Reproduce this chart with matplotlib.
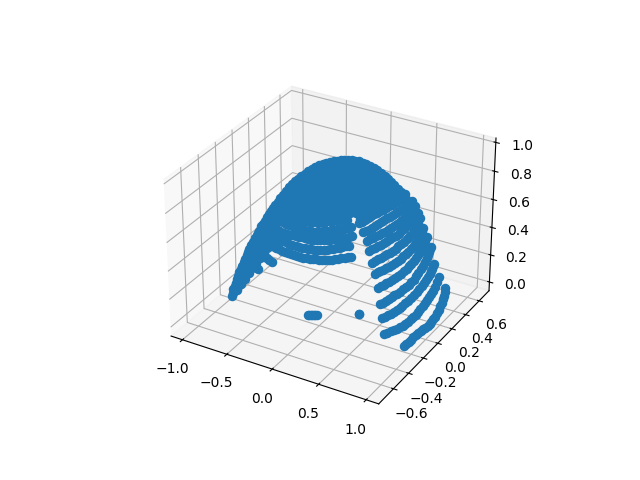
import matplotlib
matplotlib.use('Agg')
import matplotlib.pyplot as plt

# arcs on the right side, (x is fixed for each one)
arc_x = [.96, .86, .76, .66, .56, .46, .36, .5, .48, .46, .44]
arc_y = [
    [-.253, -.220, -.187, -.153, -.120, -.087, -.054, -.021, .012, .045, .078, .105, .131, .158, .184, .210, .237, .256, .276, .290, .303, .310, .316],
    [-.396, -.350, -.303, -.264, -.224, -.184, -.144, -.105, -.065, -.032, .001, .034, .067, .100, .134, .167, .200, .226, .253, .280, .306, .332, .358],
    [-.299, -.260, -.220, -.180, -.140, -.100, -.061, -.021, .019, .058, .098, .138, .177, .210, .243, .276, .310, .336, .362, .375, .389, .402, .415],
    [-.204, -.164, -.124, -.085, -.045, -.006, .034, .074, .114, .154, .193, .226, .259, .292, .325, .358, .392, .418, .444, .458, .471, .484, .497],
    [-.108, -.068, -.029, .010, .050, .090, .130, .170, .209, .248, .288, .321, .354, .388, .421, .448, .474, .500, .526, .546, .566],
    [-.026, .014, .053, .092, .132, .172, .212, .252, .291, .330, .370, .404, .437, .470, .503, .530, .556, .582, .608, .628, .648],
    [.066, .106, .146, .186, .225, .264, .304, .344, .384, .424, .463, .502, .542, .575, .608, .642, .675, .702, .728],
    [-.155, -.115, -.075, -.036, .004, .044, .083, .123, .163, .202, .242, .282, .321, .354, .388, .421, .454, .480, .507],
    [-.157, -.118, -.078, -.038, .001, .041, .081, .120, .160, .200, .239, .279, .319, .358, .398, .424, .451, .471, .491],
    [-.185, -.146, -.106, -.066, -.026, .014, .053, .092, .132, .172, .212, .252, .291, .330, .370, .404, .437, .456, .476],
    [-.214, -.174, -.135, -.096, -.056, -.016, .024, .064, .103, .143, .183, .222, .262, .302, .341, .368, .394],
]
arc_z = [
    [.014, .012, .011, .008, .006, .003, .001, -.003, -.006, -.010, -.013, -.012, -.011, -.007, -.002, .010, .022, .037, .052, .070, .088, .113, .139],
    [.156, .140, .125, .112, .100, .091, .082, .076, .071, .069, .067, .069, .071, .075, .080, .085, .090, .098, .107, .118, .130, .152, .176],
    [.195, .186, .177, .168, .159, .154, .149, .143, .138, .136, .134, .136, .138, .143, .149, .153, .158, .170, .182, .193, .204, .215, .226],
    [.227, .218, .209, .204, .199, .190, .181, .176, .171, .169, .167, .168, .170, .179, .188, .196, .204, .220, .235, .250, .265, .280, .294],
    [.275, .266, .257, .248, .239, .234, .229, .224, .218, .216, .214, .216, .218, .222, .227, .235, .244, .259, .275, .293, .312],
    [.313, .304, .295, .286, .278, .269, .260, .254, .249, .247, .246, .247, .248, .249, .251, .256, .261, .276, .292, .307, .322],
    [.326, .321, .316, .307, .298, .292, .287, .282, .277, .275, .273, .271, .270, .271, .273, .285, .297, .316, .335],
    [.546, .538, .529, .520, .511, .505, .500, .495, .490, .484, .479, .477, .476, .477, .478, .483, .488, .496, .505],
    [.615, .606, .597, .588, .580, .571, .562, .556, .551, .546, .541, .539, .537, .539, .541, .545, .550, .554, .559],
    [.681, .672, .663, .658, .653, .648, .642, .637, .632, .623, .614, .612, .610, .608, .607, .604, .602, .600, .597],
    [.755, .746, .738, .733, .728, .722, .716, .708, .699, .694, .688, .682, .677, .672, .667, .672, .677],
]

# arcs on the front, (y is fixed for each one)
front_y = [-.45, -.35, -.25, -.15]
front_x = [
    [.554, .520, .487, .453, .419, .386, .352, .318, .285, .252, .218, .184, .151, .118, .084, .050, .017, -.016, -.050, -.084, -.117, -.151, -.185, -.218, -.252, -.286, -.319],
    [.447, .414, .380, .346, .313, .280, .246, .212, .179, .146, .112, .078, .045, .012, -.022, -.056, -.089, -.123, -.157, -.190, -.224, -.258, -.291, -.319, -.347],
    [.396, .362, .329, .296, .262, .228, .195, .162, .128, .094, .060, .026, -.007, -.040, -.074, -.108, -.141, -.174, -.208, -.242, -.275, -.308, -.342, -.376, -.409],
    [.300, .266, .233, .200, .166, .132, .098, .064, .031, -.002, -.036, -.070, -.103, -.136, -.170, -.204, -.237, -.270, -.304, -.338, -.372, -.406, -.440],
]
front_z = [
    [.659, .649, .639, .629, .619, .609, .599, .592, .586, .579, .573, .570, .567, .562, .558, .557, .556, .556, .556, .557, .558, .558, .559, .563, .567, .571, .575],
    [.667, .655, .644, .634, .623, .613, .603, .595, .587, .580, .574, .569, .564, .561, .559, .558, .557, .557, .558, .560, .562, .565, .568, .570, .571],
    [.675, .663, .652, .641, .631, .623, .615, .607, .599, .592, .585, .578, .572, .569, .567, .566, .565, .563, .562, .561, .560, .558, .557, .562, .567],
    [.672, .660, .648, .638, .628, .620, .611, .602, .594, .586, .578, .571, .565, .562, .560, .558, .557, .557, .558, .559, .560, .564, .568],
]

# outer edge of the dome
edge_x = [-.930, -.921, -.913, -.900, -.887, -.878, -.870, -.858, -.846, -.833, -.820, -.807, -.794, -.782, -.770, -.753, -.736, -.718,
          -.701, -.684, -.668, -.651, -.634, -.618, -.602, -.584, -.567, -.546, -.526, -.504, -.483, -.458, -.433, -.408, -.383, -.357,
          -.331, -.302, -.273, -.244, -.214, -.184, -.154, -.125, -.096, -.066, -.037, -.008, .021,
          .060, .100, .139, .178, .217, .256, .295, .334, .373, .413, .452, .491, .524, .558, .591, .625, .653, .681, .709, .737]
edge_y = [-.270, -.266, -.263, -.258, -.254, -.250, -.247, -.242, -.237, -.232, -.227, -.222, -.218, -.213, -.208, -.202, -.195, -.188,
          -.182, -.176, -.169, -.162, -.156, -.149, -.142, -.136, -.129, -.121, -.113, -.104, -.096, -.086, -.077, -.067, -.057, -.048,
          -.038, -.026, -.015, -.004, .008, .020, .031, .042, .054, .066, .077, .088, .100,
          .1, .1, .1, .1, .1, .1, .1, .1, .1, .1, .1, .1, .1, .1, .1, .1, .1, .1, .1, .1]
edge_z = [.001, .025, .050, .075, .100, .125, .150, .175, .199, .224, .249, .274, .299, .323, .348, .373, .398, .423,
          .448, .473, .498, .522, .547, .572, .596, .617, .638, .660, .682, .706, .731, .756, .781, .802, .824, .842,
          .859, .877, .895, .909, .923, .934, .945, .952, .959, .962, .966, .968, .970,
          .975, .981, .985, .989, .986, .983, .976, .970, .960, .950, .936, .922, .907, .892, .874, .856, .836, .817, .794, .771]

# inside of the dome, back part
back_y = .1
back_x = [
    [-.301, -.231, -.161, -.091, -.021, .049, .119, .189, .259],
    [-.406, -.336, -.266, -.196, -.126, -.056, .014, .084, .154, .224, .294, .364],
    [-.511, -.441, -.371, -.301, -.231, -.161, -.091, -.021, .049, .119, .189, .259, .329, .399, .469],
    [-.546, -.476, -.406, -.336, -.266, -.196, -.126, -.056, .014, .084, .154, .224, .294, .364, .434, .504],
    [-.651, -.581, -.511, -.441, -.371, -.301, -.231, -.161, -.091, -.021, .049, .119, .189, .259, .329, .399, .469, .539, .609],
    [-.686, -.616, -.546, -.476, -.406, -.336, -.266, -.196, -.126, -.056, .014, .084, .154, .224, .294, .364, .434, .504, .574],
    [-.721, -.651, -.581, -.511, -.441, -.371, -.301, -.231, -.161, -.091, -.021, .049, .119, .189, .259, .329, .399, .469],
    [-.756, -.686, -.616, -.546, -.476, -.406, -.336, -.266, -.196, -.126, -.056, .014, .084, .154, .224, .294, .364],
    [-.861, -.791, -.721, -.651, -.581, -.511, -.441, -.371, -.301, -.231, -.161, -.091, -.021, .049, .189, .259],
]
back_z = [
    [.861, .875, .888, .902, .915, .929, .942, .956, .969],
    [.795, .809, .822, .836, .849, .863, .876, .890, .903, .916, .930, .944],
    [.729, .742, .756, .769, .783, .796, .810, .823, .837, .850, .864, .877, .891, .904, .918],
    [.676, .690, .703, .717, .730, .744, .757, .771, .784, .798, .811, .824, .838, .852, .865, .879],
    [.610, .623, .637, .650, .664, .677, .691, .704, .718, .731, .745, .758, .772, .785, .799, .812, .826, .839, .853],
    [.557, .571, .584, .598, .611, .625, .638, .652, .665, .679, .692, .706, .719, .732, .746, .760, .773, .787, .800],
    [.504, .518, .531, .545, .558, .572, .585, .599, .612, .626, .639, .653, .666, .680, .693, .707, .720, .734],
    [.452, .465, .479, .492, .506, .519, .533, .546, .560, .573, .587, .600, .614, .627, .640, .654, .668],
    [.385, .399, .412, .426, .439, .453, .466, .480, .493, .507, .520, .534, .547, .561, .588, .601],
]

# inside of the dome, low left part, the wedge side and the two stubs
low_y = -.15
low_x = [
    [-.685, -.615, -.545, -.475, -.405, -.335, -.265, -.195, -.125, -.055, .015, .085, .155, .225],
    [-.72, -.65, -.58, -.51],
    [-.755, -.685, -.615, -.545],
    [-.79, -.72, -.65, -.58],
    [-.825, -.755, -.685],
    [-.86, -.79],
    [-.895, -.825],
    [-.93, -.86],
    [-.93],
    [-.975, -.931, -.886, -.841, -.796, -.752, -.707, -.662, -.618, -.573, -.528],
    [-.573, -.601, -.629, -.657, -.685, -.708, -.730],
    [-.730, -.752, -.774, -.797, -.819],
]
low_z = [
    [.496, .509, .523, .611, .610, .609, .609, .615, .622, .635, .649, .669, .690, .710],
    [.443, .456, .470, .483],
    [.390, .404, .417, .431],
    [.337, .351, .364, .378],
    [.285, .298, .312],
    [.232, .245],
    [.179, .193],
    [.126, .140],
    [.070],
    [-.024, .027, .079, .130, .173, .217, .261, .306, .350, .386, .423],
    [.259, .268, .277, .282, .287, .297, .306],
    [.179, .186, .192, .199, .205],
]

# the small blobs on the floor
blob_x = [-.111, -.098, -.086, -.075, -.065, -.052, -.039, .306, .306]
blob_y = [-.220, -.215, -.210, -.203, -.195, -.190, -.184, -.037, -.037]
blob_z = [0, 0, 0, 0, 0, 0, 0, 0, 0]

xs, ys, zs = [], [], []
for i in range(len(arc_x)):
    xs += [arc_x[i]] * len(arc_y[i])
    ys += arc_y[i]
    zs += arc_z[i]
for i in range(len(front_y)):
    xs += front_x[i]
    ys += [front_y[i]] * len(front_x[i])
    zs += front_z[i]
xs += edge_x
ys += edge_y
zs += edge_z
for i in range(len(back_x)):
    xs += back_x[i]
    ys += [back_y] * len(back_x[i])
    zs += back_z[i]
for i in range(len(low_x)):
    xs += low_x[i]
    ys += [low_y] * len(low_x[i])
    zs += low_z[i]
xs += blob_x
ys += blob_y
zs += blob_z

fig = plt.figure()
ax = fig.add_subplot(projection='3d')
ax.scatter(xs, ys, zs, s=34, depthshade=False)
ax.set_xlim(-1.13, 1.13)
ax.set_ylim(-0.79, 0.75)
ax.set_zlim(-0.065, 1.03)
plt.savefig('out.png', dpi=100)
